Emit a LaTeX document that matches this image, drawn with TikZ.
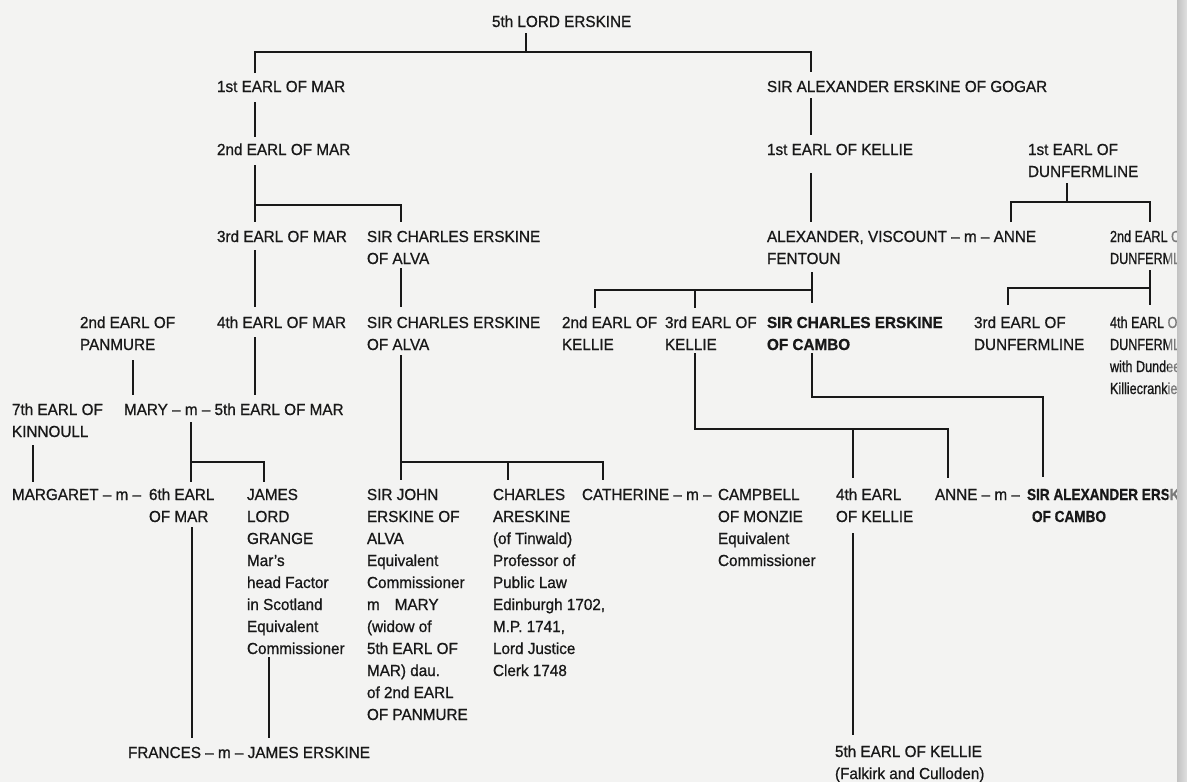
\documentclass[tikz,border=0pt]{standalone}
\usepackage{fontspec}
\setmainfont[FakeStretch=0.955,FakeBold=0.8]{Liberation Sans}
\newfontfamily\gutterfont[FakeStretch=0.79,FakeBold=0.8]{Liberation Sans}
\newfontfamily\cambofont[FakeStretch=0.85,FakeBold=0.8]{Liberation Sans}
\definecolor{bg}{RGB}{243,243,242}
\definecolor{ink}{RGB}{24,24,24}
\newcommand{\mlines}[1]{\begin{tabular}[t]{@{}l@{}}#1\end{tabular}}
\begin{document}
\begin{tikzpicture}[x=1pt,y=-1pt,
  txt/.style={anchor=base west, inner sep=0pt, outer sep=0pt, text=ink, font=\fontsize{16}{22}\selectfont},
  btxt/.style={txt, font=\fontsize{16}{22}\selectfont\bfseries},
  gtxt/.style={txt, font=\fontsize{16}{22}\gutterfont},
  conn/.style={draw=ink, line width=2pt}]
\fill[bg] (0,0) rectangle (1187,782);
\useasboundingbox (0,0) rectangle (1187,782);
\begin{scope}
\clip (0,0) rectangle (1177,782);
% ---------- people ----------
\node[txt] (lord5) at (492,27) {5th LORD ERSKINE};
\node[txt] (mar1) at (217,92) {1st EARL OF MAR};
\node[txt] (gogar) at (767,92) {SIR ALEXANDER ERSKINE OF GOGAR};
\node[txt] (mar2) at (217,155) {2nd EARL OF MAR};
\node[txt] (kel1) at (767,155) {1st EARL OF KELLIE};
\node[txt] (dun1) at (1028,155) {\mlines{1st EARL OF\\DUNFERMLINE}};
\node[txt] (mar3) at (217,242) {3rd EARL OF MAR};
\node[txt] (alva1) at (367,242) {\mlines{SIR CHARLES ERSKINE\\OF ALVA}};
\node[txt] (fent) at (767,242) {\mlines{ALEXANDER, VISCOUNT – m – ANNE\\FENTOUN}};
\node[gtxt] (dun2) at (1110,242) {\mlines{2nd EARL OF\\DUNFERMLINE}};
\node[txt] (pan2) at (80,328) {\mlines{2nd EARL OF\\PANMURE}};
\node[txt] (mar4) at (217,328) {4th EARL OF MAR};
\node[txt] (alva2) at (367,328) {\mlines{SIR CHARLES ERSKINE\\OF ALVA}};
\node[txt] (kel2) at (562,328) {\mlines{2nd EARL OF\\KELLIE}};
\node[txt] (kel3) at (665,328) {\mlines{3rd EARL OF\\KELLIE}};
\node[btxt] (cambo1) at (767,328) {\mlines{SIR CHARLES ERSKINE\\OF CAMBO}};
\node[txt] (dun3) at (974,328) {\mlines{3rd EARL OF\\DUNFERMLINE}};
\node[gtxt] (dun4) at (1110,328) {\mlines{4th EARL OF\\DUNFERMLINE\\with Dundee\\Killiecrankie}};
\node[txt] (kinn) at (12,415) {\mlines{7th EARL OF\\KINNOULL}};
\node[txt] (mary) at (124,415) {MARY – m – 5th EARL OF MAR};
\node[txt] (marg) at (12,500) {MARGARET – m –};
\node[txt] (mar6) at (149,500) {\mlines{6th EARL\\OF MAR}};
\node[txt] (grange) at (247,500) {\mlines{JAMES\\LORD\\GRANGE\\Mar’s\\head Factor\\in Scotland\\Equivalent\\Commissioner}};
\node[txt] (john) at (367,500) {\mlines{SIR JOHN\\ERSKINE OF\\ALVA\\Equivalent\\Commissioner\\m\hspace{15pt}MARY\\(widow of\\5th EARL OF\\MAR) dau.\\of 2nd EARL\\OF PANMURE}};
\node[txt] (charles) at (493,500) {\mlines{CHARLES\\ARESKINE\\(of Tinwald)\\Professor of\\Public Law\\Edinburgh 1702,\\M.P. 1741,\\Lord Justice\\Clerk 1748}};
\node[txt] (cath) at (582,500) {CATHERINE – m –};
\node[txt] (camp) at (718,500) {\mlines{CAMPBELL\\OF MONZIE\\Equivalent\\Commissioner}};
\node[txt] (kel4) at (836,500) {\mlines{4th EARL\\OF KELLIE}};
\node[txt] (anne) at (935,500) {ANNE – m –};
\node[txt, font=\fontsize{16}{22}\cambofont\bfseries] (cambo2) at (1027,500) {\mlines{SIR ALEXANDER ERSKINE\\\hspace*{5pt}OF CAMBO}};
\node[txt] (fran) at (128,758) {FRANCES – m – JAMES ERSKINE};
\node[txt] (kel5) at (835,757) {\mlines{5th EARL OF KELLIE\\(Falkirk and Culloden)}};
\end{scope}
% ---------- connectors ----------
\path[conn] ([shift={(34,6)}]lord5.base west) -- ([shift={(34,25)}]lord5.base west);
\path[conn] ([shift={(38,-19)}]mar1.base west) |- ([shift={(44,-40)}]gogar.base west) -- ([shift={(44,-20)}]gogar.base west);
\path[conn] ([shift={(38,10)}]mar1.base west) -- ([shift={(38,-18)}]mar2.base west);
\path[conn] ([shift={(44,6)}]gogar.base west) -- ([shift={(44,-20)}]kel1.base west);
\path[conn] ([shift={(38,10)}]mar2.base west) -- ([shift={(38,-20)}]mar3.base west);
\path[conn] ([shift={(38,-37)}]mar3.base west) -| ([shift={(34,-20)}]alva1.base west);
\path[conn] ([shift={(44,18)}]kel1.base west) -- ([shift={(44,-20)}]fent.base west);
\path[conn] ([shift={(39,28)}]dun1.base west) -- ([shift={(39,47)}]dun1.base west);
\path[conn] ([shift={(244,-20)}]fent.base west) |- ([shift={(40,-40)}]dun2.base west) -- ([shift={(40,-20)}]dun2.base west);
\path[conn] ([shift={(38,8)}]mar3.base west) -- ([shift={(38,-21)}]mar4.base west);
\path[conn] ([shift={(34,26)}]alva1.base west) -- ([shift={(34,-21)}]alva2.base west);
\path[conn] ([shift={(45,30)}]fent.base west) -- ([shift={(45,-25)}]cambo1.base west);
\path[conn] ([shift={(33,-20)}]kel2.base west) |- ([shift={(45,-38)}]cambo1.base west);
\path[conn] ([shift={(30,-38)}]kel3.base west) -- ([shift={(30,-20)}]kel3.base west);
\path[conn] ([shift={(40,28)}]dun2.base west) -- ([shift={(40,-23)}]dun4.base west);
\path[conn] ([shift={(34,-23)}]dun3.base west) |- ([shift={(40,-40)}]dun4.base west);
\path[conn] ([shift={(53,32)}]pan2.base west) -- ([shift={(9,-20)}]mary.base west);
\path[conn] ([shift={(38,9)}]mar4.base west) -- ([shift={(131,-20)}]mary.base west);
\path[conn] ([shift={(34,27)}]alva2.base west) -- ([shift={(34,-20)}]john.base west);
\path[conn] ([shift={(34,-38)}]john.base west) -| ([shift={(21,-20)}]cath.base west);
\path[conn] ([shift={(15,-38)}]charles.base west) -- ([shift={(15,-20)}]charles.base west);
\path[conn] ([shift={(30,25)}]kel3.base west) |- ([shift={(13,-71)}]anne.base west) -- ([shift={(13,-22)}]anne.base west);
\path[conn] ([shift={(17,-71)}]kel4.base west) -- ([shift={(17,-22)}]kel4.base west);
\path[conn] ([shift={(45,25)}]cambo1.base west) |- ([shift={(16,-103)}]cambo2.base west) -- ([shift={(16,-23)}]cambo2.base west);
\path[conn] ([shift={(21,30)}]kinn.base west) -- ([shift={(21,-18)}]marg.base west);
\path[conn] ([shift={(67,7)}]mary.base west) -- ([shift={(42,-18)}]mar6.base west);
\path[conn] ([shift={(42,-38)}]mar6.base west) -| ([shift={(17,-18)}]grange.base west);
\path[conn] ([shift={(43,27)}]mar6.base west) -- ([shift={(64,-20)}]fran.base west);
\path[conn] ([shift={(22,157)}]grange.base west) -- ([shift={(141,-20)}]fran.base west);
\path[conn] ([shift={(17,33)}]kel4.base west) -- ([shift={(18,-22)}]kel5.base west);
% ---------- page gutter ----------
\fill[bg, opacity=0.45] (1168,0) rectangle (1177,782);
\shade[left color=black!24, right color=black!12] (1177,0) rectangle (1187,782);
\end{tikzpicture}
\end{document}
